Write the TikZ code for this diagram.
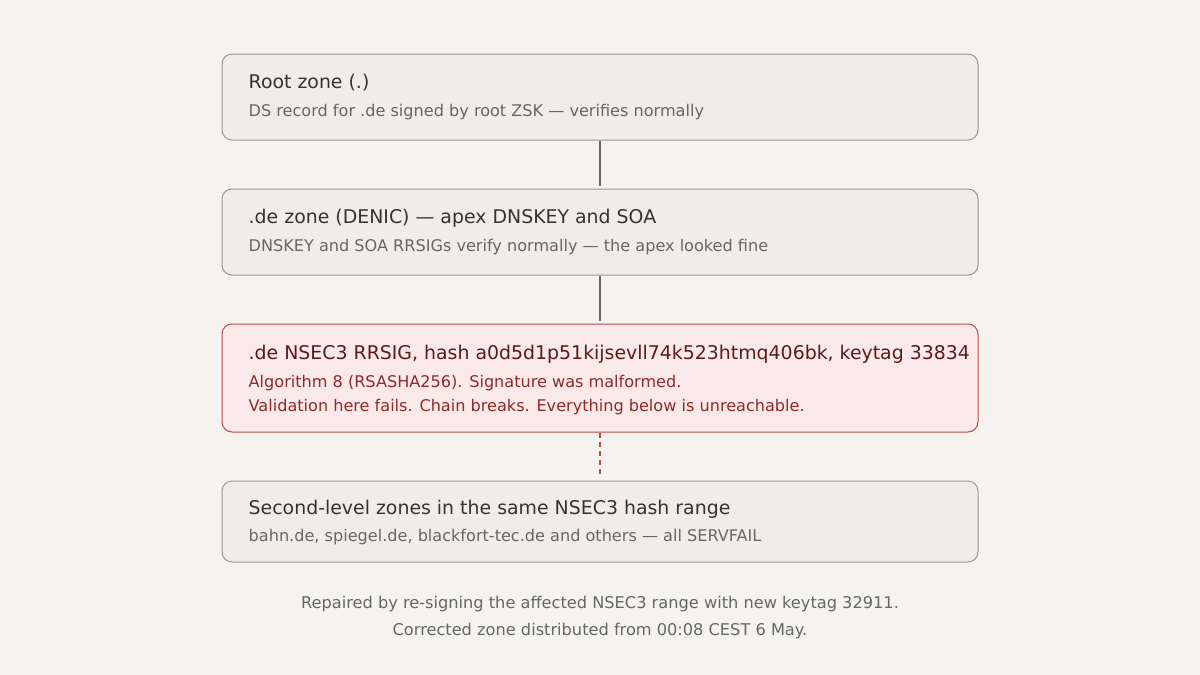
\documentclass[tikz,border=0pt]{standalone}
\usepackage{fontspec}
\setmainfont{DejaVu Sans}
\usetikzlibrary{positioning}

\definecolor{paper}{HTML}{F5F3EE}
\definecolor{boxfill}{HTML}{F0EDE7}
\definecolor{boxline}{HTML}{9A9894}
\definecolor{inkdark}{HTML}{333333}
\definecolor{inkgrey}{HTML}{666666}
\definecolor{failfill}{HTML}{FAE9E9}
\definecolor{failline}{HTML}{BC4A4A}
\definecolor{failtitle}{HTML}{5C1A1A}
\definecolor{failtext}{HTML}{8E2A2A}

\tikzset{
  zone/.style={draw=boxline, fill=boxfill, line width=1pt, rounded corners=10pt,
    minimum width=756pt, inner sep=0pt},
  failzone/.style={zone, draw=failline, fill=failfill},
  ztitle/.style={anchor=base west, inner sep=0pt, text=inkdark, font=\fontsize{18.9}{23}\selectfont},
  zsub/.style={anchor=base west, inner sep=0pt, text=inkgrey, font=\fontsize{16.1}{19}\selectfont},
  link/.style={draw=inkgrey, line width=1.2pt},
  broken/.style={draw=failline, line width=1.2pt, dash pattern=on 5pt off 4pt},
  note/.style={inner sep=0pt, anchor=base, text=inkgrey, font=\fontsize{16.2}{19}\selectfont}
}

\begin{document}
\begin{tikzpicture}[x=1pt,y=1pt,node distance=48pt]
\fill[paper] (0,0) rectangle (1200,-675);
\useasboundingbox (0,0) rectangle (1200,-675);

\node[zone, minimum height=86pt] (root) at (600,-97) {};
\node[zone, minimum height=86pt] (de) [below=of root] {};
\node[failzone, minimum height=108pt] (nsec) [below=of de] {};
\node[zone, minimum height=81pt] (sld) [below=of nsec] {};

% texts inside the boxes
\node[ztitle] (root-t) at ([shift={(27,-35)}]root.north west) {Root zone (.)};
\node[zsub] (root-s) at ([shift={(27,-63)}]root.north west) {DS record for .de signed by root ZSK — verifies normally};

\node[ztitle] (de-t) at ([shift={(27,-35)}]de.north west) {.de zone (DENIC) — apex DNSKEY and SOA};
\node[zsub] (de-s) at ([shift={(27,-63)}]de.north west) {DNSKEY and SOA RRSIGs verify normally — the apex looked fine};

\node[ztitle, text=failtitle] (nsec-t) at ([shift={(27,-36)}]nsec.north west) {.de NSEC3 RRSIG, hash a0d5d1p51kijsevll74k523htmq406bk, keytag 33834};
\node[zsub, text=failtext] (nsec-s1) at ([shift={(27,-64)}]nsec.north west) {Algorithm 8 (RSASHA256). Signature was malformed.};
\node[zsub, text=failtext] (nsec-s2) at ([shift={(27,-88)}]nsec.north west) {Validation here fails. Chain breaks. Everything below is unreachable.};

\node[ztitle] (sld-t) at ([shift={(27,-34)}]sld.north west) {Second-level zones in the same NSEC3 hash range};
\node[zsub] (sld-s) at ([shift={(27,-61)}]sld.north west) {bahn.de, spiegel.de, blackfort-tec.de and others — all SERVFAIL};

% chain of trust
\draw[link] (root.south) -- ([yshift=3pt]de.north);
\draw[link] (de.south) -- ([yshift=3pt]nsec.north);
\draw[broken] (nsec.south) -- ([yshift=5pt]sld.north);

\node[note] (fix1) at (600,-608) {Repaired by re-signing the affected NSEC3 range with new keytag 32911.};
\node[note] (fix2) at (600,-635) {Corrected zone distributed from 00:08 CEST 6 May.};
\end{tikzpicture}
\end{document}
